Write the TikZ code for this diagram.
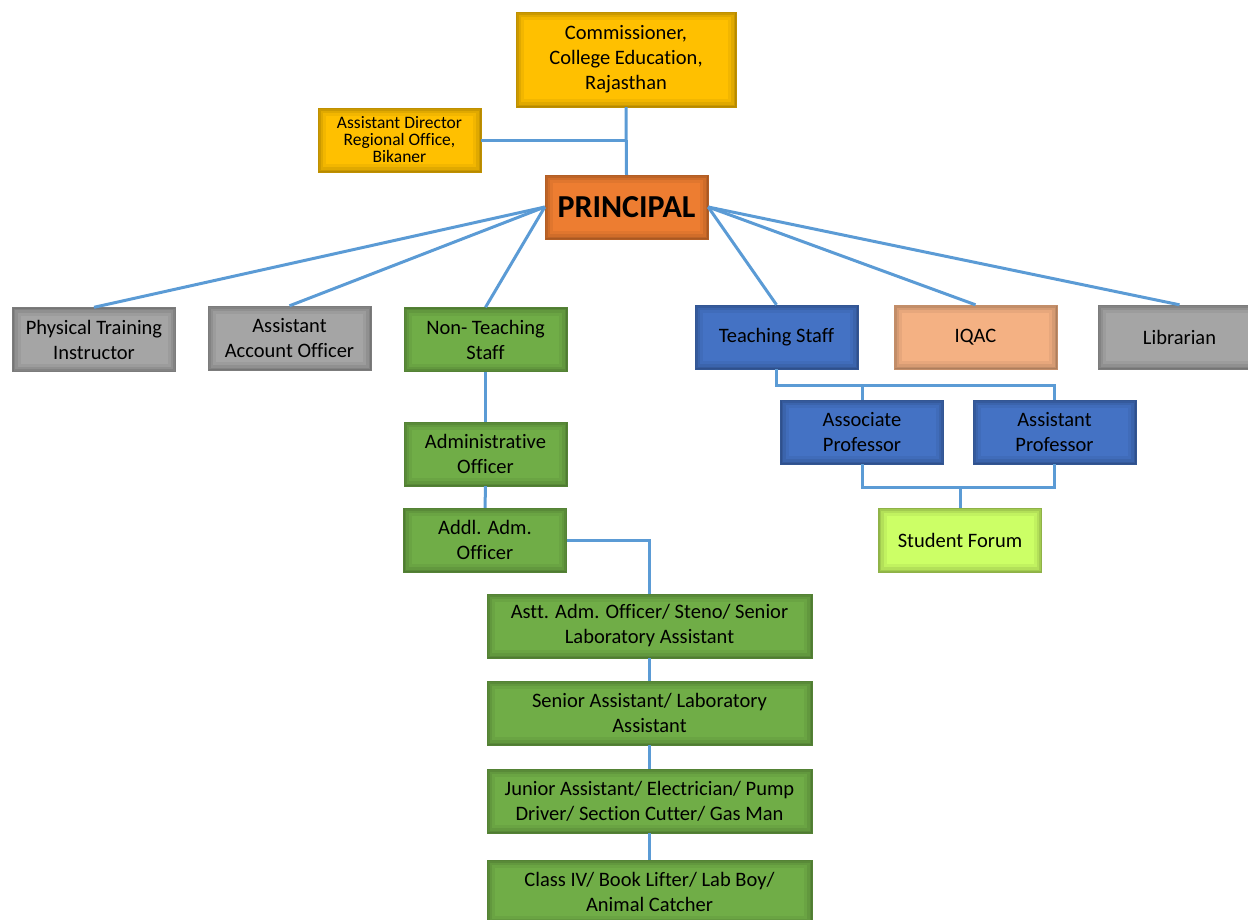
\documentclass[tikz,border=0pt]{standalone}
\usepackage{fontspec}
\setmainfont{Carlito}[Ligatures=NoCommon]
\definecolor{linkblue}{HTML}{5B9BD5}
\definecolor{gold}{HTML}{FFC000}
\definecolor{orng}{HTML}{ED7D31}
\definecolor{greyc}{HTML}{A5A5A5}
\definecolor{grn}{HTML}{70AD47}
\definecolor{blu}{HTML}{4472C4}
\definecolor{peach}{HTML}{F4B183}
\definecolor{lime}{HTML}{CCFF66}
\begin{document}
\begin{tikzpicture}[x=1pt,y=-1pt]
        \useasboundingbox (0,0) rectangle (1248,919);
        \tikzstyle{box}=[rectangle, minimum width=163pt, minimum height=64pt, inner sep=2pt, align=center,
                font=\fontsize{20.5}{25}\selectfont,
                path picture={\foreach \w/\o in {16/0.05,10/0.07,5/0.09,2/0.10}
                        \draw[line width=\w pt, black, opacity=\o] (path picture bounding box.south west) rectangle (path picture bounding box.north east);}];
        \tikzstyle{gold}=[box, fill=gold, draw=gold!75!black];
        \tikzstyle{orng}=[box, fill=orng, draw=orng!75!black];
        \tikzstyle{grey}=[box, fill=greyc, draw=greyc!75!black];
        \tikzstyle{grn}=[box, fill=grn, draw=grn!75!black];
        \tikzstyle{blu}=[box, fill=blu, draw=blu!75!black];
        \tikzstyle{link}=[draw=linkblue, line width=3pt];

        \node[gold, minimum width=220pt, minimum height=95pt] (com) at (626,59.5) {Commissioner,\\College Education,\\Rajasthan};
        \node[gold, font=\fontsize{17.5}{17}\selectfont] (ad) at (399.5,140) {Assistant Director\\Regional Office,\\Bikaner};
        \node[orng, font=\fontsize{32}{34}\selectfont\bfseries] (prin) at (626.5,207) {PRINCIPAL};

        \node[grey] (pti) at (94,339.5) {Physical Training\\Instructor};
        \node[grey] (aao) at (289.5,338) {Assistant\\Account Officer};
        \node[grn] (nts) at (485.5,339.5) {Non- Teaching\\Staff};
        \node[blu] (ts) at (776.5,337) {Teaching Staff};
        \node[box, fill=peach, draw=peach!80!black] (iqac) at (975.5,337) {IQAC};
        \node[grey] (lib) at (1179.5,337) {Librarian};

        \node[grn] (admo) at (485.5,454) {Administrative\\Officer};
        \node[grn] (addl) at (485,540) {Addl. Adm.\\Officer};
        \node[blu] (asc) at (862,432) {Associate\\Professor};
        \node[blu] (asp) at (1054.5,432) {Assistant\\Professor};
        \node[box, fill=lime, draw=lime!70!black] (sf) at (960,540) {Student Forum};

        \node[grn, minimum width=325pt] (astt) at (649.5,626) {Astt. Adm. Officer/ Steno/ Senior\\Laboratory Assistant};
        \node[grn, minimum width=325pt] (sra) at (649.5,713) {Senior Assistant/ Laboratory\\Assistant};
        \node[grn, minimum width=325pt] (jra) at (649.5,801) {Junior Assistant/ Electrician/ Pump\\Driver/ Section Cutter/ Gas Man};
        \node[grn, minimum width=325pt] (cls) at (649.5,892) {Class IV/ Book Lifter/ Lab Boy/\\Animal Catcher};

        \coordinate (tj) at (1054.5,385);
        \coordinate (sj) at (960,487);

        \path[link] (com.south) -- (prin.north);
        \path[link] (ad.east) -- (ad.east -| prin.north);
        \path[link] (prin.west) -- (pti.north);
        \path[link] (prin.west) -- (aao.north);
        \path[link] (prin.west) -- (nts.north);
        \path[link] (prin.east) -- (ts.north);
        \path[link] (prin.east) -- (iqac.north);
        \path[link] (prin.east) -- (lib.north);
        \path[link] (nts.south) -- (admo.north);
        \path[link] (admo.south) -- (addl.north);
        \path[link] (addl.east) -| (astt.north);
        \path[link] (astt.south) -- (sra.north);
        \path[link] (sra.south) -- (jra.north);
        \path[link] (jra.south) -- (cls.north);
        \path[link] (ts.south) |- (tj) -- (asp.north);
        \path[link] (asc.north) -- (asc.north |- tj);
        \path[link] (asc.south) |- (asp.south |- sj) -- (asp.south);
        \path[link] (sf.north) -- (sj);
\end{tikzpicture}
\end{document}
